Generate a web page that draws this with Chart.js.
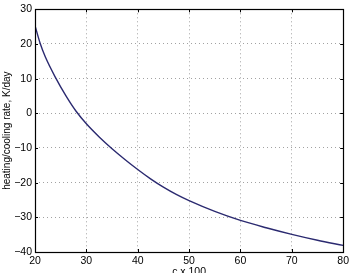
<!DOCTYPE html>
<html>
<head>
<meta charset="utf-8">
<script src="https://cdn.jsdelivr.net/npm/chart.js@4"></script>
<style>
  html, body { margin: 0; padding: 0; background: #fff; }
  #wrap { width: 352px; height: 273px; }
</style>
</head>
<body>
<div id="wrap"><canvas id="myChart" width="352" height="273"></canvas></div>
<script>
// values
const cValues = [20, 21, 22, 24, 26, 28, 30, 32.5, 35, 37.5, 40, 42.5, 45, 47.5, 50, 55, 60, 65, 70, 75, 80];
const rateValues = [25.3, 20.2, 16.3, 10.3, 5.1, 0.6, -3.0, -6.8, -10.2, -13.3, -16.2, -18.9, -21.3, -23.4, -25.2, -28.3, -30.9, -33.0, -34.9, -36.6, -38.1];
const xTicks = [20, 30, 40, 50, 60, 70, 80];
const yTicks = [-40, -30, -20, -10, 0, 10, 20, 30];

const fontFamily = "'Liberation Sans', Helvetica, Arial, sans-serif";

// box around the axes plus small inward ticks, MATLAB style
const boxPlugin = {
    id: "box",
    afterDraw(chart) {
        const {ctx, chartArea: a, scales} = chart;
        ctx.save();
        ctx.strokeStyle = "#000";
        ctx.lineWidth = 1;
        ctx.beginPath();
        xTicks.forEach((v) => {
            const px = Math.round(scales.x.getPixelForValue(v)) + 0.5;
            ctx.moveTo(px, a.bottom); ctx.lineTo(px, a.bottom - 3);
            ctx.moveTo(px, a.top); ctx.lineTo(px, a.top + 3);
        });
        yTicks.forEach((v) => {
            const py = Math.round(scales.y.getPixelForValue(v)) + 0.5;
            ctx.moveTo(a.left, py); ctx.lineTo(a.left + 3, py);
            ctx.moveTo(a.right, py); ctx.lineTo(a.right - 3, py);
        });
        ctx.stroke();
        ctx.lineWidth = 1.2;
        ctx.strokeRect(Math.round(a.left) + 0.5, Math.round(a.top) + 0.5,
            Math.round(a.right - a.left), Math.round(a.bottom - a.top));
        ctx.restore();
    }
};

new Chart(document.getElementById("myChart").getContext("2d"), {
    type: "line",
    data: {
        datasets: [
            {
                data: cValues.map((c, i) => ({x: c, y: rateValues[i]})),
                borderColor: "#2b2a70",
                borderWidth: 1.4,
                pointRadius: 0,
                cubicInterpolationMode: "monotone",
                fill: false
            }
        ]
    },
    options: {
        responsive: false,
        animation: false,
        layout: {padding: {top: 5, right: 4, left: 0, bottom: 0}},
        plugins: {legend: {display: false}, tooltip: {enabled: false}},
        scales: {
            x: {
                type: "linear",
                min: 20,
                max: 80,
                afterBuildTicks: (s) => { s.ticks = xTicks.map((v) => ({value: v})); },
                afterFit: (s) => { s.height = 21; },
                grid: {color: "#8a8a8a", lineWidth: 0.8, drawTicks: false},
                border: {display: false, dash: [1, 3]},
                ticks: {color: "#000", padding: 3, font: {family: fontFamily, size: 10.5}, maxRotation: 0},
                title: {display: true, text: "c x 100", color: "#000", padding: {top: 0, bottom: -5},
                    font: {family: fontFamily, size: 10.5}}
            },
            y: {
                min: -40,
                max: 30,
                afterBuildTicks: (s) => { s.ticks = yTicks.map((v) => ({value: v})); },
                afterFit: (s) => { s.width = 35; },
                grid: {color: "#8a8a8a", lineWidth: 0.8, drawTicks: false},
                border: {display: false, dash: [1, 3]},
                ticks: {color: "#000", padding: 3, font: {family: fontFamily, size: 10.5},
                    callback: (v) => (v < 0 ? "\u2212" + Math.abs(v) : "" + v)},
                title: {display: true, text: "heating/cooling rate, K/day", color: "#000",
                    padding: {top: 1, bottom: 0}, font: {family: fontFamily, size: 10}}
            }
        }
    },
    plugins: [boxPlugin]
});
</script>
</body>
</html>
